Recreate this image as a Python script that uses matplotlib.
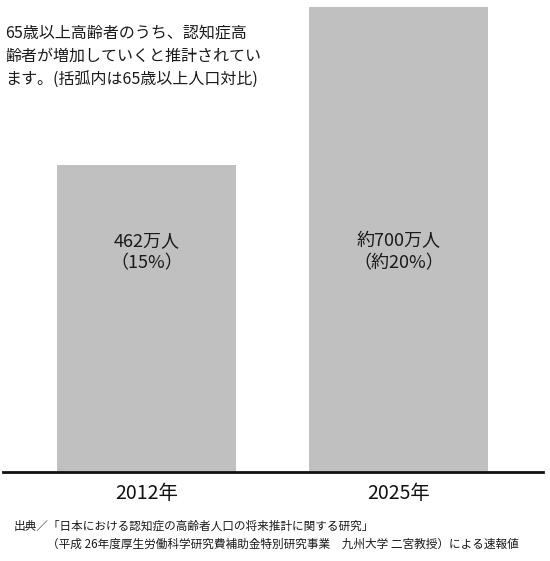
import matplotlib
matplotlib.use("Agg")
import matplotlib.pyplot as plt

plt.rcParams['font.family'] = ['Noto Sans CJK JP', 'DejaVu Sans']

# Data
years = ["2012年", "2025年"]
patients = [462, 700]  # 万人
bar_labels = ["462万人\n（15%）", "約700万人\n（約20%）"]
title_lines = [
    "65歳以上高齢者のうち、認知症高",
    "齢者が増加していくと推計されてい",
    "ます。(括弧内は65歳以上人口対比)",
]
source_lines = [
    "出典／「日本における認知症の高齢者人口の将来推計に関する研究」",
    "（平成 26年度厚生労働科学研究費補助金特別研究事業　九州大学 二宮教授）による速報値",
]

W, H = 550, 561
fig = plt.figure(figsize=(W / 100, H / 100), dpi=100)

# axes spanning x 3..543 px, y 0..472 px (from top)
ax_left, ax_right = 3, 543
ax_top, ax_bottom = 0, 472
ax = fig.add_axes([ax_left / W, 1 - ax_bottom / H,
                   (ax_right - ax_left) / W, (ax_bottom - ax_top) / H])

x = [0, 1]
pitch = 398.5 - 146.5
width = 179 / pitch
ax.bar(x, patients, width=width, color="#c0c0c0", edgecolor="none", zorder=1)
ax.set_xlim(-(146.5 - ax_left) / pitch, 1 + (ax_right - 398.5) / pitch)
ymax = 700 * (ax_bottom - ax_top) / (472 - 7)
ax.set_ylim(0, ymax)

# value labels sit at a common height inside the bars
label_y = ymax * (ax_bottom - 252) / (ax_bottom - ax_top)
for xi, lab in zip(x, bar_labels):
    ax.text(xi, label_y, lab, ha="center", va="center",
            fontsize=13, color="#1a1a1a", linespacing=1.3)

for s in ["top", "right", "left"]:
    ax.spines[s].set_visible(False)
ax.spines["bottom"].set_linewidth(2)
ax.spines["bottom"].set_color("#111111")
ax.set_yticks([])
ax.set_xticks(x)
ax.set_xticklabels(years, fontsize=14, color="#111111")
ax.tick_params(axis="x", length=0, pad=8)

# Heading text
for i, line in enumerate(title_lines):
    fig.text(5 / W, 1 - (33 + 23 * i) / H, line, ha="left", va="center",
             fontsize=11.5, color="#1a1a1a")

# Source text
fig.text(14 / W, 1 - 526 / H, source_lines[0], ha="left", va="center",
         fontsize=8.4, color="#1a1a1a")
fig.text(47 / W, 1 - 544 / H, source_lines[1], ha="left", va="center",
         fontsize=8.4, color="#1a1a1a")

fig.savefig("out.png", dpi=100)
